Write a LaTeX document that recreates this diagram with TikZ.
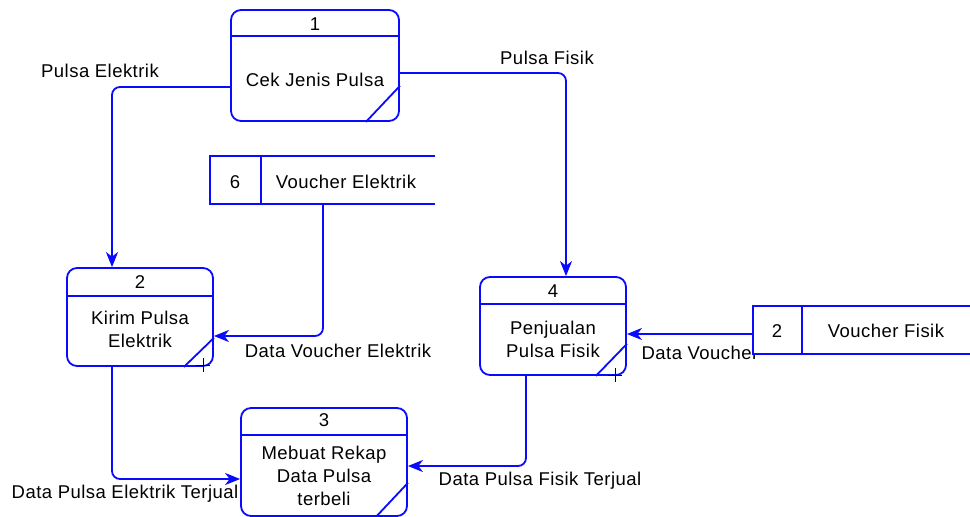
\documentclass[tikz,border=0pt]{standalone}
\usepackage{fontspec}
\setmainfont[LetterSpace=2.5]{Liberation Sans}
\usetikzlibrary{arrows.meta}
\definecolor{dfdblue}{RGB}{10,10,255}
\begin{document}
\begin{tikzpicture}[x=1pt,y=-1pt,
  font=\fontsize{18.5}{23}\selectfont,
  proc/.style={draw=dfdblue, line width=1.8pt, rounded corners=10pt, minimum width=#1},
  proc/.default=146pt,
  storebox/.style={inner sep=0pt, minimum height=48pt},
  edge/.style={draw=dfdblue, line width=1.8pt},
  flow/.style={edge, rounded corners=8pt, -{Stealth[length=15pt,width=12pt,inset=4.5pt]}},
  txt/.style={inner sep=0pt, align=center, text=black},
  plus/.style={black, line width=0.9pt}
]
\useasboundingbox (0,0) rectangle (970,517);

% ---- process 1 ----
\node[proc=168pt, minimum height=111pt] (p1) at (315,65.5) {};
\draw[edge] ([yshift=-27pt]p1.north west) -- ([yshift=-27pt]p1.north east);
\draw[edge] ([yshift=36pt]p1.south east) -- ([xshift=-34pt]p1.south east);
\node[txt] (p1n) at (315,24) {1};
\node[txt] (p1t) at (315,80) {Cek Jenis Pulsa};

% ---- process 2 ----
\node[proc, minimum height=98pt] (p2) at (140,317) {};
\draw[edge] ([yshift=-29pt]p2.north west) -- ([yshift=-29pt]p2.north east);
\draw[edge] ([yshift=29pt]p2.south east) -- ([xshift=-30pt]p2.south east);
\draw[plus] (196,365) -- (210,365) (203,358) -- (203,372);
\node[txt] (p2n) at (140,282) {2};
\node[txt] (p2t) at (140,329.5) {Kirim Pulsa\\Elektrik};

% ---- process 4 ----
\node[proc, minimum height=98pt] (p4) at (553,326) {};
\draw[edge] ([yshift=-28pt]p4.north west) -- ([yshift=-28pt]p4.north east);
\draw[edge] ([yshift=32pt]p4.south east) -- ([xshift=-31pt]p4.south east);
\draw[plus] (608,375) -- (622,375) (615,368) -- (615,382);
\node[txt] (p4n) at (553,291) {4};
\node[txt] (p4t) at (553,339.5) {Penjualan\\Pulsa Fisik};

% ---- process 3 ----
\node[proc=166pt, minimum height=108pt] (p3) at (324,462) {};
\draw[edge] ([yshift=-28pt]p3.north west) -- ([yshift=-28pt]p3.north east);
\draw[edge] ([yshift=34pt]p3.south east) -- ([xshift=-32pt]p3.south east);
\node[txt] (p3n) at (324,420) {3};
\node[txt] (p3t) at (324,476) {Mebuat Rekap\\Data Pulsa\\terbeli};

% ---- data store 6 ----
\node[storebox, minimum width=225pt] (s6) at (322.5,180) {};
\draw[edge] (s6.north east) -- (s6.north west) -- (s6.south west) -- (s6.south east);
\draw[edge] (261,156) -- (261,204);
\node[txt] (s6n) at (235,182) {6};
\node[txt] (s6t) at (346,182) {Voucher Elektrik};

% ---- flows ----
\draw[flow] ([yshift=-21.5pt]p1.west) -| ([xshift=-28pt]p2.north);
\node[txt] (l1) at (100,71) {Pulsa Elektrik};

\draw[flow] ([yshift=-7.5pt]p1.east) -| ([xshift=13pt]p4.north);
\node[txt] (l2) at (547,58) {Pulsa Fisik};

\draw[flow] ([xshift=0.5pt]s6.south) |- ([yshift=-19pt]p2.east);
\node[txt] (l3) at (338,351) {Data Voucher Elektrik};

\draw[flow] ([xshift=-28pt]p2.south) |- ([yshift=-17pt]p3.west);
\node[txt] (l5) at (125,494) {Data Pulsa Elektrik Terjual};

\draw[flow] ([xshift=-27pt]p4.south) |- ([yshift=-4pt]p3.east);
\node[txt] (l6) at (540,481) {Data Pulsa Fisik Terjual};

% ---- data store 2, drawn over the end of its flow label ----
\node[txt] (l4) at (700,353) {Data Voucher};
\node[storebox, minimum width=217pt, fill=white] (s2) at (861.5,330) {};
\draw[edge] (s2.north east) -- (s2.north west) -- (s2.south west) -- (s2.south east);
\draw[edge] (802,306) -- (802,354);
\node[txt] (s2n) at (777,331) {2};
\node[txt] (s2t) at (886,331) {Voucher Fisik};
\draw[flow] ([yshift=-4pt]s2.west) -- ([yshift=-8pt]p4.east);
\end{tikzpicture}
\end{document}
